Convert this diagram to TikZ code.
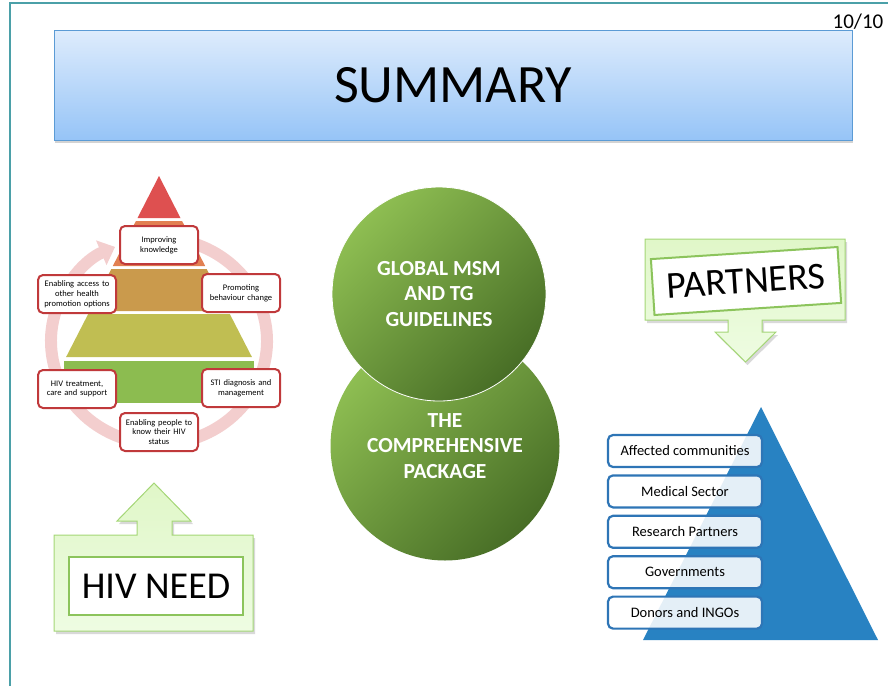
\documentclass[tikz,border=0pt]{standalone}
\usepackage{fontspec}
\setmainfont{Carlito}
\usepackage{tikz}
\usetikzlibrary{arrows.meta, positioning, shadows}
\definecolor{frameteal}{RGB}{75,160,168}
\definecolor{titletop}{RGB}{222,236,252}
\definecolor{titlebot}{RGB}{150,196,247}
\definecolor{titleline}{RGB}{91,155,213}
\definecolor{pyrred}{RGB}{222,80,80}
\definecolor{pyrorange}{RGB}{226,128,82}
\definecolor{pyrtan}{RGB}{202,154,76}
\definecolor{pyrolive}{RGB}{192,190,82}
\definecolor{pyrgreen}{RGB}{140,188,80}
\definecolor{ringpink}{RGB}{243,206,206}
\definecolor{boxred}{RGB}{192,57,59}
\definecolor{ballhi}{RGB}{142,190,82}
\definecolor{balllo}{RGB}{72,110,38}
\definecolor{calltop}{RGB}{224,247,200}
\definecolor{callbot}{RGB}{238,252,226}
\definecolor{callline}{RGB}{164,214,118}
\definecolor{innerline}{RGB}{140,196,92}
\definecolor{pyrblue}{RGB}{40,130,194}
\definecolor{boxblue}{RGB}{46,117,182}
\tikzset{
  titlebox/.style={rectangle, draw=titleline, top color=titletop, bottom color=titlebot,
    minimum width=798pt, minimum height=110pt, line width=0.8pt,
    font=\fontsize{54}{60}\selectfont,
    drop shadow={shadow xshift=1pt, shadow yshift=-3pt, opacity=0.35}},
  stage/.style={rectangle, draw=boxred, fill=white, line width=2pt, rounded corners=5pt,
    text width=74pt, align=center, minimum width=78pt, minimum height=38pt,
    inner sep=2pt, font=\fontsize{8.5}{9.8}\selectfont},
  ball/.style={circle, top color=ballhi, bottom color=balllo, shading angle=45,
    text=white, align=center, font=\bfseries\fontsize{21.5}{25.5}\selectfont},
  callout/.style={draw=callline, line width=1pt, top color=calltop, bottom color=callbot,
    drop shadow={shadow xshift=2pt, shadow yshift=-3pt, opacity=0.3}},
  tag/.style={rectangle, draw=innerline, fill=white, line width=2pt,
    font=\fontsize{38}{42}\selectfont},
  partner/.style={rectangle, draw=boxblue, fill=white, fill opacity=0.88, text opacity=1,
    line width=2.2pt, rounded corners=5pt, minimum width=154pt, minimum height=32pt,
    font=\fontsize{14.5}{16}\selectfont}
}
\begin{document}
\begin{tikzpicture}[x=1pt, y=-1pt]
  \useasboundingbox (0,0) rectangle (888,686);

  % --- Frame and title ---
  \draw[frameteal, line width=1.2pt] (10,686) -- (10,3) -- (888,3);
  \node[titlebox] (title) at (453,85) {SUMMARY};
  \node[font=\fontsize{21}{24}\selectfont] (page) at (858,22) {10/10};

  % --- Pyramid with cycle ---
  \draw[ringpink, line width=12pt, -{Triangle[width=26pt, length=15pt]}]
    (159,341) ++(-75:108 and 103) arc[start angle=-75, end angle=246, x radius=108, y radius=103];
  \fill[pyrred] (159,176) -- (180.5,218) -- (137.5,218) -- cycle;
  \fill[pyrorange] (135.9,221) -- (182.1,221) -- (205.2,266) -- (112.8,266) -- cycle;
  \fill[pyrtan] (111.3,269) -- (206.7,269) -- (228.3,311) -- (89.7,311) -- cycle;
  \fill[pyrolive] (88.2,314) -- (229.8,314) -- (251.9,357) -- (66.1,357) -- cycle;
  \fill[pyrgreen] (64,361) rectangle (254,403);

  \node[stage] (know) at (159,245) {Improving\\knowledge};
  \node[stage] (access) at (77,294) {Enabling access to\\other health\\promotion options};
  \node[stage] (promote) at (241,293) {Promoting\\behaviour change};
  \node[stage, below=55pt of access] (treat) {HIV treatment,\\care and support};
  \node[stage, below=55pt of promote] (sti) {STI diagnosis and\\management};
  \node[stage] (status) at (159,432) {Enabling people to\\know their HIV\\status};

  % --- Guidelines and package ---
  \node[ball, minimum size=229pt] (package) at (445,446) {THE\\COMPREHENSIVE\\PACKAGE};
  \node[ball, minimum size=214pt, draw=white, line width=0.8pt] (guide) at (439,294)
    {GLOBAL MSM\\AND TG\\GUIDELINES};

  % --- HIV need ---
  \draw[callout] (54,535) -- (137,535) -- (137,521) -- (117,521) -- (154,483)
    -- (191,521) -- (172,521) -- (172,535) -- (253,535) -- (253,631) -- (54,631) -- cycle;
  \node[tag, minimum width=174pt, minimum height=58pt] (need) at (156,586) {HIV NEED};

  % --- Partners ---
  \draw[callout] (645,239) -- (845,239) -- (845,320) -- (762,320) -- (762,332)
    -- (776,332) -- (745.5,362) -- (715,332) -- (728,332) -- (728,320) -- (645,320) -- cycle;
  \node[tag, minimum width=187pt, minimum height=56pt, rotate=3.7] (partners) at (746,281) {PARTNERS};

  \fill[pyrblue] (761,407) -- (878,640) -- (643,640) -- cycle;
  \node[partner] (comm) at (685,451) {Affected communities};
  \node[partner, below=6.2pt of comm] (med) {Medical Sector};
  \node[partner, below=6.2pt of med] (research) {Research Partners};
  \node[partner, below=6.2pt of research] (gov) {Governments};
  \node[partner, below=6.2pt of gov] (donor) {Donors and INGOs};
\end{tikzpicture}
\end{document}
